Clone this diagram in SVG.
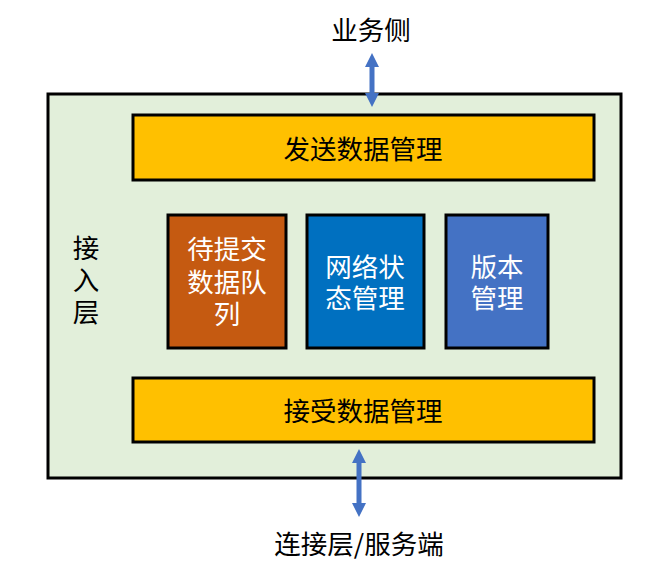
<svg xmlns="http://www.w3.org/2000/svg" width="654" height="581" viewBox="0 0 654 581">
<defs>
<style>
.t{font-family:"Noto Sans CJK SC","Microsoft YaHei",sans-serif;font-size:26.5px;text-anchor:middle;fill:#000}
.w{fill:#fff}
.box{stroke:#000;stroke-width:3}
.arr{fill:#4472C4}
</style>
</defs>
<rect width="654" height="581" fill="#fff"/>
<g id="outer">
<rect x="48" y="94" width="573" height="384" fill="#E2EFDA" class="box"/>
<text class="t" x="86" y="258">接</text>
<text class="t" x="86" y="290">入</text>
<text class="t" x="86" y="322">层</text>
</g>
<g id="send">
<rect x="133" y="115" width="461" height="65" fill="#FFC000" class="box"/>
<text class="t" x="363" y="159">发送数据管理</text>
</g>
<g id="queue">
<rect x="168" y="215" width="118" height="133" fill="#C55A11" class="box"/>
<text class="t w" x="227" y="259">待提交</text>
<text class="t w" x="227" y="292">数据队</text>
<text class="t w" x="227" y="324">列</text>
</g>
<g id="net">
<rect x="307" y="215" width="117" height="133" fill="#0070C0" class="box"/>
<text class="t w" x="365" y="277">网络状</text>
<text class="t w" x="365" y="308">态管理</text>
</g>
<g id="ver">
<rect x="446" y="215" width="102" height="133" fill="#4472C4" class="box"/>
<text class="t w" x="497" y="277">版本</text>
<text class="t w" x="497" y="308">管理</text>
</g>
<g id="recv">
<rect x="133" y="378" width="461" height="64" fill="#FFC000" class="box"/>
<text class="t" x="363" y="421">接受数据管理</text>
</g>
<g id="biz"><text class="t" x="371" y="40">业务侧</text></g>
<g id="conn"><text class="t" x="359" y="554">连接层/服务端</text></g>
<g id="connectors">
<polygon class="arr" points="372,53 379,67 374.5,67 374.5,93 379,93 372,107 365,93 369.5,93 369.5,67 365,67"/>
<polygon class="arr" points="359,449 366,463 361.5,463 361.5,503 366,503 359,517 352,503 356.5,503 356.5,463 352,463"/>
</g>
</svg>
